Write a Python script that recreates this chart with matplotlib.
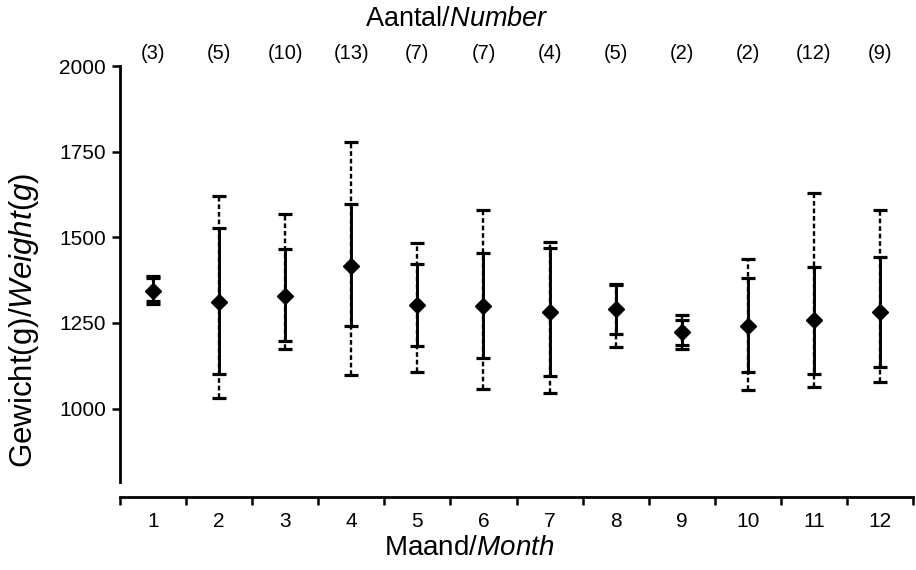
import matplotlib
matplotlib.use("Agg")
import matplotlib.pyplot as plt
from matplotlib.transforms import blended_transform_factory
import numpy as np

plt.rcParams['font.family'] = ['Liberation Sans', 'DejaVu Sans']
plt.rcParams['mathtext.fontset'] = 'custom'
plt.rcParams['mathtext.rm'] = 'Liberation Sans'
plt.rcParams['mathtext.it'] = 'Liberation Sans:italic'

months = [1, 2, 3, 4, 5, 6, 7, 8, 9, 10, 11, 12]
counts = [3, 5, 10, 13, 7, 7, 4, 5, 2, 2, 12, 9]
mean_w = [1342, 1312, 1329, 1417, 1303, 1300, 1283, 1292, 1224, 1242, 1259, 1283]
sd_hi = [1382, 1528, 1466, 1598, 1423, 1455, 1469, 1362, 1259, 1382, 1414, 1443]
sd_lo = [1315, 1102, 1198, 1242, 1184, 1149, 1096, 1219, 1187, 1108, 1102, 1122]
max_w = [1387, 1621, 1569, 1778, 1484, 1580, 1487, 1365, 1274, 1437, 1630, 1580]
min_w = [1306, 1032, 1175, 1099, 1108, 1058, 1047, 1181, 1175, 1055, 1064, 1079]
yticks = [1000, 1250, 1500, 1750, 2000]

fig = plt.figure(figsize=(9.16, 5.70), dpi=100)
ax = fig.add_axes([120/916, 1 - 497/570, 793/916, 431/570])

m = np.array(mean_w)
# range (min-max), dotted
eb1 = ax.errorbar(months, m, yerr=[m - np.array(min_w), np.array(max_w) - m],
                  fmt='none', ecolor='black', elinewidth=1.7, capsize=5, capthick=2.3)
eb1[2][0].set_linestyle((0, (2.0, 1.2)))
# SD, solid
ax.errorbar(months, m, yerr=[m - np.array(sd_lo), np.array(sd_hi) - m],
            fmt='D', color='black', markersize=8.5, ecolor='black',
            elinewidth=2.1, capsize=5, capthick=2.3)

ax.set_xlim(0.5, 12.5)
ax.set_ylim(742, 2000)

for s in ['top', 'right']:
    ax.spines[s].set_visible(False)
ax.spines['left'].set_bounds(786, 2000)
ax.spines['left'].set_linewidth(2.0)
ax.spines['bottom'].set_linewidth(2.0)

ax.set_yticks(yticks)
ax.set_yticklabels([str(v) for v in yticks])
ax.tick_params(axis='y', direction='out', length=6, width=1.8, labelsize=15, pad=4)

ax.set_xticks(np.arange(0.5, 13.0, 1.0))
ax.set_xticklabels([])
ax.tick_params(axis='x', which='major', direction='out', length=6, width=1.8)
ax.set_xticks(months, minor=True)
ax.set_xticklabels([str(v) for v in months], minor=True)
ax.tick_params(axis='x', which='minor', length=0, labelsize=15, pad=11)

trans = blended_transform_factory(ax.transData, ax.transAxes)
for x, c in zip(months, counts):
    ax.text(x, 1.03, f"({c})", transform=trans, ha='center', va='center', fontsize=14.5)

ax.text(0.425, 1.11, r'Aantal/$\mathit{Number}$', transform=ax.transAxes,
        ha='center', va='center', fontsize=19.5)
ax.set_xlabel(r'Maand/$\mathit{Month}$', fontsize=20)
ax.xaxis.set_label_coords(0.44, -0.088)
ax.set_ylabel(r'Gewicht(g)/$\mathit{Weight(g)}$', fontsize=22.5)
ax.yaxis.set_label_coords(-0.10, 0.41)

fig.savefig('out.png', dpi=100)
